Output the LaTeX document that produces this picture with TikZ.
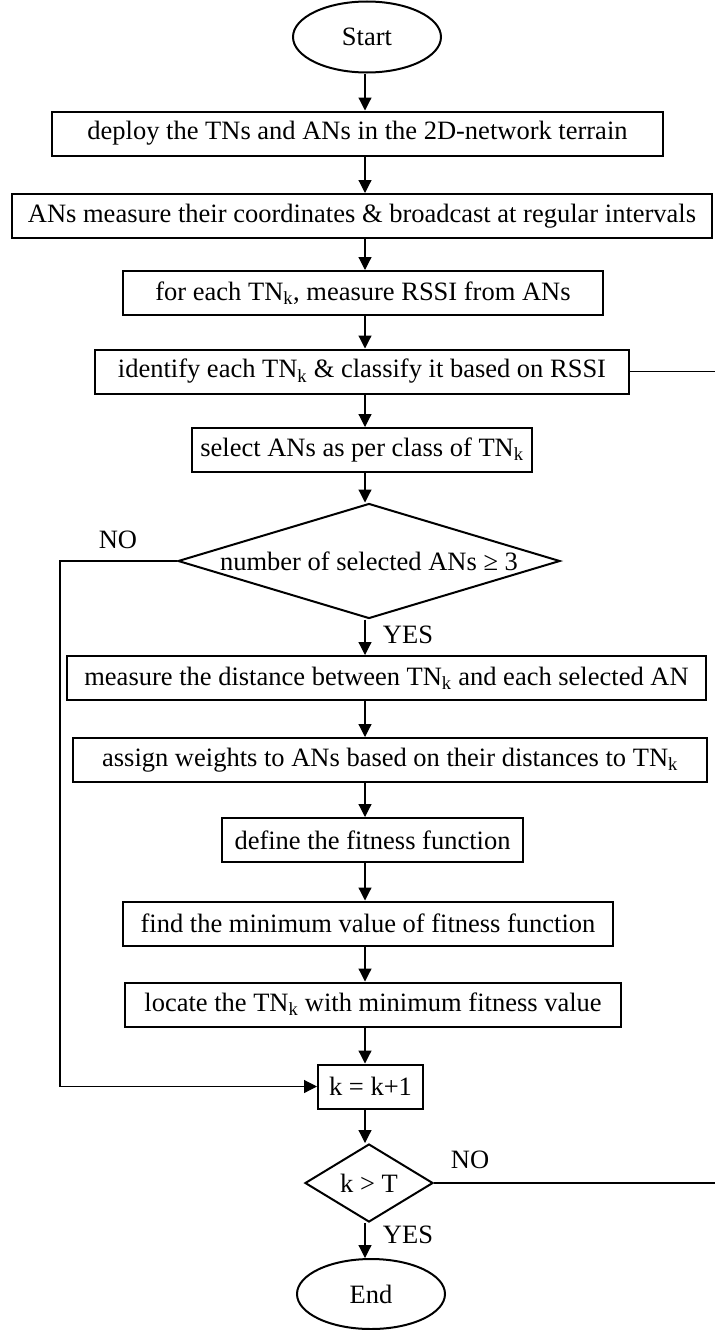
\documentclass[tikz,border=0pt]{standalone}
\usepackage{fontspec}
\setmainfont{Liberation Serif}
\usetikzlibrary{arrows.meta,shapes.geometric}
\begin{document}
\begin{tikzpicture}[x=1pt,y=-1pt,
  every node/.style={font=\fontsize{26.5}{30}\selectfont},
  box/.style={draw, line width=2pt, minimum height=44pt, inner sep=0pt, fill=white},
  term/.style={draw, ellipse, line width=2pt, inner sep=0pt},
  dec/.style={draw, diamond, line width=2pt, inner sep=0pt},
  conn/.style={line width=1.2pt},
  arr/.style={conn, -{Triangle[length=13pt,width=13pt]}},
  lbl/.style={inner sep=0pt}]
\useasboundingbox (0,0) rectangle (715,1330);
\coordinate (spine) at (365,0);
\coordinate (r1) at (715,0);
\coordinate (l1) at (60,0);

\node[term, minimum width=148pt, minimum height=71pt] (start) at (367,37) {Start};
\node[box, minimum width=611pt] (b1) at (357.5,133.5) {deploy the TNs and ANs in the 2D-network terrain};
\node[box, minimum width=700pt] (b2) at (362,216) {ANs measure their coordinates \& broadcast at regular intervals};
\node[box, minimum width=480pt] (b3) at (363,293) {for each TN\textsubscript{k}, measure RSSI from ANs};
\node[box, minimum width=534pt] (b4) at (362,371.5) {identify each TN\textsubscript{k} \& classify it based on RSSI};
\node[box, minimum width=340pt] (b5) at (362,450) {select ANs as per class of TN\textsubscript{k}};
\node[dec, minimum width=382pt, minimum height=115pt, label={center:number of selected ANs ≥ 3}] (d1) at (369,561) {};
\node[box, minimum width=639pt] (b6) at (386.5,678) {measure the distance between TN\textsubscript{k} and each selected AN};
\node[box, minimum width=634pt] (b7) at (390,760) {assign weights to ANs based on their distances to TN\textsubscript{k}};
\node[box, minimum width=301pt] (b8) at (372.5,840) {define the fitness function};
\node[box, minimum width=490pt] (b9) at (368,923.5) {find the minimum value of fitness function};
\node[box, minimum width=496pt] (b10) at (373,1004.5) {locate the TN\textsubscript{k} with minimum fitness value};
\node[box, minimum width=105pt] (bk) at (370.5,1086.5) {k = k+1};
\node[dec, minimum width=128pt, minimum height=78pt, label={center:k > T}] (d2) at (369,1183) {};
\node[term, minimum width=148pt, minimum height=70pt] (end) at (371,1294) {End};

\draw[arr] (start.south -| spine) -- (b1.north -| spine);
\draw[arr] (b1.south -| spine) -- (b2.north -| spine);
\draw[arr] (b2.south -| spine) -- (b3.north -| spine);
\draw[arr] (b3.south -| spine) -- (b4.north -| spine);
\draw[arr] (b4.south -| spine) -- (b5.north -| spine);
\draw[arr] (b5.south -| spine) -- (d1.north -| spine);
\draw[arr] (d1.south -| spine) -- (b6.north -| spine);
\draw[arr] (b6.south -| spine) -- (b7.north -| spine);
\draw[arr] (b7.south -| spine) -- (b8.north -| spine);
\draw[arr] (b8.south -| spine) -- (b9.north -| spine);
\draw[arr] (b9.south -| spine) -- (b10.north -| spine);
\draw[arr] (b10.south -| spine) -- (bk.north -| spine);
\draw[arr] (bk.south -| spine) -- (d2.north -| spine);
\draw[arr] (d2.south -| spine) -- (end.north -| spine);

\draw[conn] (b4.east) -- (b4.east -| r1);
\draw[conn] (d2.east) -- (d2.east -| r1);
\draw[arr] (d1.west) -- (d1.west -| l1) |- (bk.west);

\node[lbl] (no1) at (118,540) {NO};
\node[lbl] (yes1) at (408,635) {YES};
\node[lbl] (no2) at (470,1160) {NO};
\node[lbl] (yes2) at (408,1235) {YES};
\end{tikzpicture}
\end{document}
